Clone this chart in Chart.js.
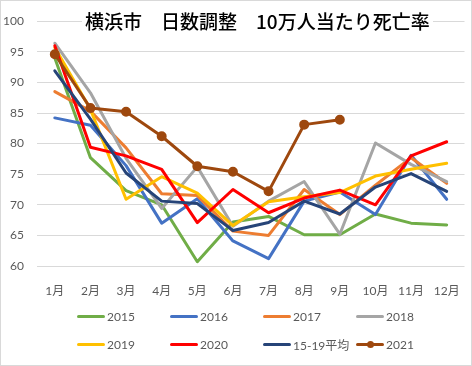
<!DOCTYPE html>
<html>
<head>
<meta charset="utf-8">
<script src="https://cdn.jsdelivr.net/npm/chart.js@4"></script>
<style>
  body { margin: 0; background: #fff; }
  #wrap { position: relative; width: 472px; height: 366px; }
  #frame { position: absolute; left: 0; top: 0; width: 470px; height: 364px; border: 1px solid #d9d9d9; pointer-events: none; }
  canvas { position: absolute; left: 1px; top: 1px; }
  #title {
    position: absolute; left: 82px; top: 8px; padding: 0 3px;
    background: #fff; color: #000;
    font: 500 19px "Noto Sans CJK JP", sans-serif; line-height: 26px; white-space: pre;
  }
  #legend { position: absolute; left: 77px; top: 305px; display: grid; grid-template-columns: repeat(4, 93px); row-gap: 6px; }
  .item { display: flex; align-items: center; height: 22px; font: 12px Lato, "Noto Sans CJK JP", sans-serif; color: #595959; }
  .swatch { position: relative; width: 28px; height: 3px; border-radius: 2px; margin-right: 2px; }
  .swatch i { position: absolute; left: 11px; top: -2px; width: 7px; height: 7px; border-radius: 50%; }
</style>
</head>
<body>
<div id="wrap">
  <canvas id="chart" width="470" height="364"></canvas>
  <div id="title">横浜市　日数調整　10万人当たり死亡率</div>
  <div id="legend"></div>
  <div id="frame"></div>
</div>
<script>
// month labels
const months = ['1月', '2月', '3月', '4月', '5月', '6月', '7月', '8月', '9月', '10月', '11月', '12月'];

// values
const v2015 = [94.0, 77.7, 72.3, 70.0, 60.7, 67.2, 68.1, 65.1, 65.1, 68.5, 67.0, 66.7];
const v2016 = [84.2, 83.0, 76.4, 67.0, 71.0, 64.1, 61.2, 70.6, 72.1, 68.4, 78.1, 70.9];
const v2017 = [88.5, 85.3, 79.3, 71.8, 71.5, 65.7, 65.0, 72.5, 68.4, 73.2, 77.7, 73.5];
const v2018 = [96.4, 88.3, 77.6, 69.4, 76.2, 66.5, 70.6, 73.8, 65.2, 80.1, 76.6, 73.8];
const v2019 = [95.7, 85.6, 70.9, 74.6, 71.9, 66.6, 70.5, 71.3, 72.0, 74.7, 75.8, 76.8];
const v2020 = [96.0, 79.4, 78.0, 75.8, 67.1, 72.5, 68.7, 71.1, 72.4, 70.0, 78.0, 80.3];
const avg1519 = [91.9, 84.0, 75.2, 70.6, 70.2, 65.8, 67.1, 70.6, 68.5, 72.9, 75.1, 72.2];
const v2021 = [94.6, 85.8, 85.2, 81.2, 76.3, 75.4, 72.2, 83.1, 83.9];

const yMin = 60;
const yMax = 100;
const yStep = 5;

const series = [
  { label: '2015', data: v2015, color: '#70AD47' },
  { label: '2016', data: v2016, color: '#4472C4' },
  { label: '2017', data: v2017, color: '#ED7D31' },
  { label: '2018', data: v2018, color: '#A5A5A5' },
  { label: '2019', data: v2019, color: '#FFC000' },
  { label: '2020', data: v2020, color: '#FF0000' },
  { label: '15-19平均', data: avg1519, color: '#264478' },
  { label: '2021', data: v2021, color: '#9E480E', marker: true },
];

// later series drawn on top, like Excel
const datasets = series.map((s, i) => ({
  label: s.label,
  data: s.data,
  borderColor: s.color,
  backgroundColor: s.color,
  borderWidth: 3,
  tension: 0,
  borderJoinStyle: 'round',
  borderCapStyle: 'round',
  pointRadius: s.marker ? 3.5 : 0,
  pointHoverRadius: s.marker ? 3.5 : 0,
  order: series.length - i,
}));

const tickFont = { family: 'Lato, "Noto Sans CJK JP", sans-serif', size: 12 };

new Chart(document.getElementById('chart'), {
  type: 'line',
  data: { labels: months, datasets },
  options: {
    responsive: false,
    animation: false,
    layout: { padding: { left: 0, right: 5, top: 14, bottom: 69 } },
    plugins: { legend: { display: false }, tooltip: { enabled: false } },
    scales: {
      x: {
        offset: true,
        grid: { display: false },
        border: { display: false },
        ticks: { color: '#595959', font: tickFont, padding: 10, maxRotation: 0 },
        afterFit: (scale) => { scale.height = 30; },
      },
      y: {
        min: yMin,
        max: yMax,
        grid: { color: '#d9d9d9', drawTicks: false },
        border: { display: false },
        ticks: { stepSize: yStep, color: '#595959', font: tickFont, padding: 13 },
        afterFit: (scale) => { scale.width = 36; },
      },
    },
  },
});

// legend in Excel's fixed-width grid
const legend = document.getElementById('legend');
series.forEach(s => {
  const item = document.createElement('div');
  item.className = 'item';
  const sw = document.createElement('span');
  sw.className = 'swatch';
  sw.style.background = s.color;
  if (s.marker) {
    const dot = document.createElement('i');
    dot.style.background = s.color;
    sw.appendChild(dot);
  }
  item.appendChild(sw);
  item.appendChild(document.createTextNode(s.label));
  legend.appendChild(item);
});
</script>
</body>
</html>
